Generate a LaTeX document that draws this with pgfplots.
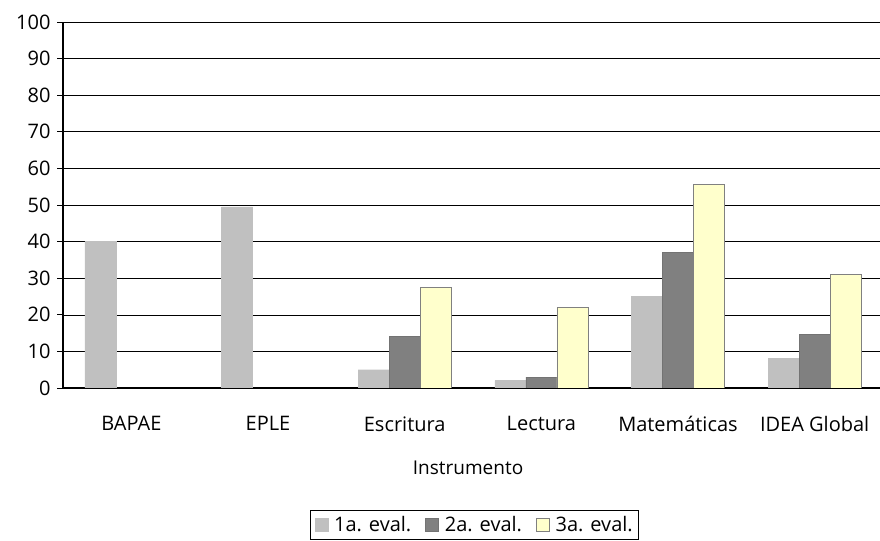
\documentclass[border=0pt]{standalone}
\usepackage{pgfplots}
\pgfplotsset{compat=1.18}
\usepackage{fontspec}
\setmainfont{Open Sans}
\definecolor{c1}{HTML}{C0C0C0}
\definecolor{c2}{HTML}{808080}
\definecolor{c3}{HTML}{FFFFCC}
\begin{document}
\begin{tikzpicture}
\useasboundingbox (0bp,0bp) rectangle (880bp,541bp);
\begin{axis}[
  at={(63bp,153bp)}, anchor=south west,
  scale only axis, width=820bp, height=366bp,
  ybar=0pt, bar width=31bp,
  xmin=-0.5, xmax=5.5, ymin=0, ymax=100,
  ytick={0,10,...,100},
  xtick={0,1,2,3,4,5},
  xticklabels={BAPAE,EPLE,Escritura,Lectura,Matemáticas,IDEA Global},
  major x tick style={draw=none},
  extra x ticks={0.5,1.5,2.5,3.5,4.5,5.5},
  extra x tick labels={},
  extra x tick style={major tick length=6bp, tick align=outside, tick style={draw=black}},
  ytick align=outside, major tick length=6bp,
  tick style={black, line width=0.8pt},
  ymajorgrids, grid style={black, line width=0.6pt},
  axis lines*=left,
  axis line style={black, line width=1.2pt},
  tick label style={font=\fontsize{20bp}{24bp}\selectfont},
  /pgf/number format/assume math mode=true,
  xticklabel style={anchor=north, yshift=-19bp},
  yticklabel style={anchor=east, xshift=-3bp},
  xlabel={Instrumento},
  xlabel style={font=\fontsize{19bp}{22bp}\selectfont, at={(axis description cs:0.494,-0.219)}, anchor=center},
  legend columns=3,
  legend style={at={(axis description cs:0.502,-0.333)}, anchor=north,
    font=\fontsize{20bp}{24bp}\selectfont, draw=black, line width=0.8pt,
    inner xsep=4bp, inner ysep=4bp,
    /tikz/every odd column/.append style={column sep=4bp},
    /tikz/every even column/.append style={column sep=12bp}},
  legend image code/.code={\draw[#1, line width=0.6pt] (0bp,-6.5bp) rectangle (13bp,6.5bp);},
]
\addplot[fill=c1, draw=c1] coordinates {(0,40) (1,49.5) (2,5) (3,2) (4,25.1) (5,8.1)};
\addplot[fill=c2, draw=c2!90!black] coordinates {(2,14.2) (3,3) (4,37.1) (5,14.7)};
\addplot[fill=c3, draw=gray] coordinates {(2,27.5) (3,22) (4,55.6) (5,31.1)};
\legend{1a. eval.,2a. eval.,3a. eval.}
\end{axis}
\end{tikzpicture}
\end{document}
